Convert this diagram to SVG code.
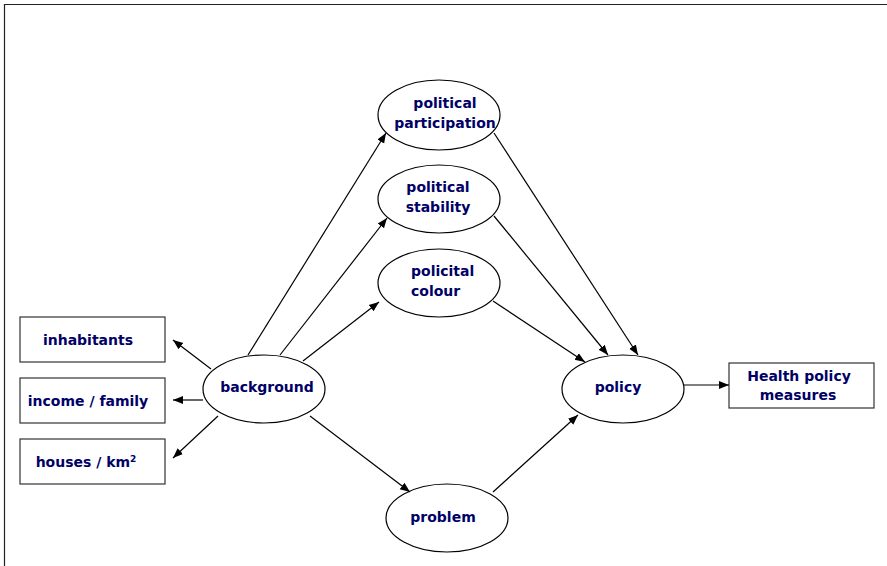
<svg xmlns="http://www.w3.org/2000/svg" width="887" height="566" viewBox="0 0 887 566">
<defs>
<marker id="ah" viewBox="0 0 10 10" refX="10" refY="5" markerWidth="10" markerHeight="10" markerUnits="userSpaceOnUse" orient="auto">
<path d="M0,1 L10,5 L0,9 z" fill="#000"/>
</marker>
<style>
.n{fill:#fff;stroke:#000;stroke-width:1.2}
.b{fill:#fff;stroke:#333;stroke-width:1.2}
.t{font-family:"DejaVu Sans",sans-serif;font-weight:bold;font-size:14px;fill:#000066}
.c line{stroke:#000;stroke-width:1.2;marker-end:url(#ah)}
</style>
</defs>
<rect width="887" height="566" fill="#fff"/>
<path d="M4.5,566 V4.5 H887" fill="none" stroke="#222" stroke-width="1.2"/>
<g id="inhabitants"><rect class="b" x="20" y="317" width="145" height="45"/><text class="t" x="88" y="345" text-anchor="middle">inhabitants</text></g>
<g id="income"><rect class="b" x="20" y="378" width="145" height="45"/><text class="t" x="88" y="406" text-anchor="middle">income / family</text></g>
<g id="houses"><rect class="b" x="20" y="439" width="145" height="45"/><text class="t" x="86" y="467" text-anchor="middle">houses / km<tspan font-size="9" dy="-5">2</tspan></text></g>
<g id="background"><ellipse class="n" cx="264" cy="389" rx="61" ry="34"/><text class="t" x="267" y="392" text-anchor="middle">background</text></g>
<g id="participation"><ellipse class="n" cx="439" cy="115" rx="61" ry="35"/><text class="t" x="445" y="108" text-anchor="middle">political</text><text class="t" x="445" y="128" text-anchor="middle">participation</text></g>
<g id="stability"><ellipse class="n" cx="439" cy="199" rx="61" ry="34"/><text class="t" x="438" y="192" text-anchor="middle">political</text><text class="t" x="438" y="212" text-anchor="middle">stability</text></g>
<g id="colour"><ellipse class="n" cx="439" cy="283" rx="61" ry="34"/><text class="t" x="411" y="276">policital</text><text class="t" x="411" y="296">colour</text></g>
<g id="policy"><ellipse class="n" cx="623" cy="389" rx="61" ry="34"/><text class="t" x="618" y="392" text-anchor="middle">policy</text></g>
<g id="problem"><ellipse class="n" cx="447" cy="518" rx="61" ry="34"/><text class="t" x="443" y="522" text-anchor="middle">problem</text></g>
<g id="measures"><rect class="b" x="729" y="363" width="145" height="45"/><text class="t" x="799" y="381" text-anchor="middle">Health policy</text><text class="t" x="798" y="400" text-anchor="middle">measures</text></g>
<g id="connectors" class="c">
<line x1="211" y1="369" x2="173" y2="340"/>
<line x1="203" y1="400" x2="173" y2="400"/>
<line x1="218" y1="416" x2="173" y2="458"/>
<line x1="248" y1="355" x2="386" y2="133"/>
<line x1="280" y1="355" x2="387" y2="218"/>
<line x1="303" y1="361" x2="379" y2="302"/>
<line x1="310" y1="416" x2="410" y2="492"/>
<line x1="494" y1="133" x2="638" y2="355"/>
<line x1="494" y1="216" x2="608" y2="355"/>
<line x1="493" y1="301" x2="585" y2="362"/>
<line x1="493" y1="492" x2="578" y2="415"/>
<line x1="684" y1="385" x2="729" y2="385"/>
</g>
</svg>
